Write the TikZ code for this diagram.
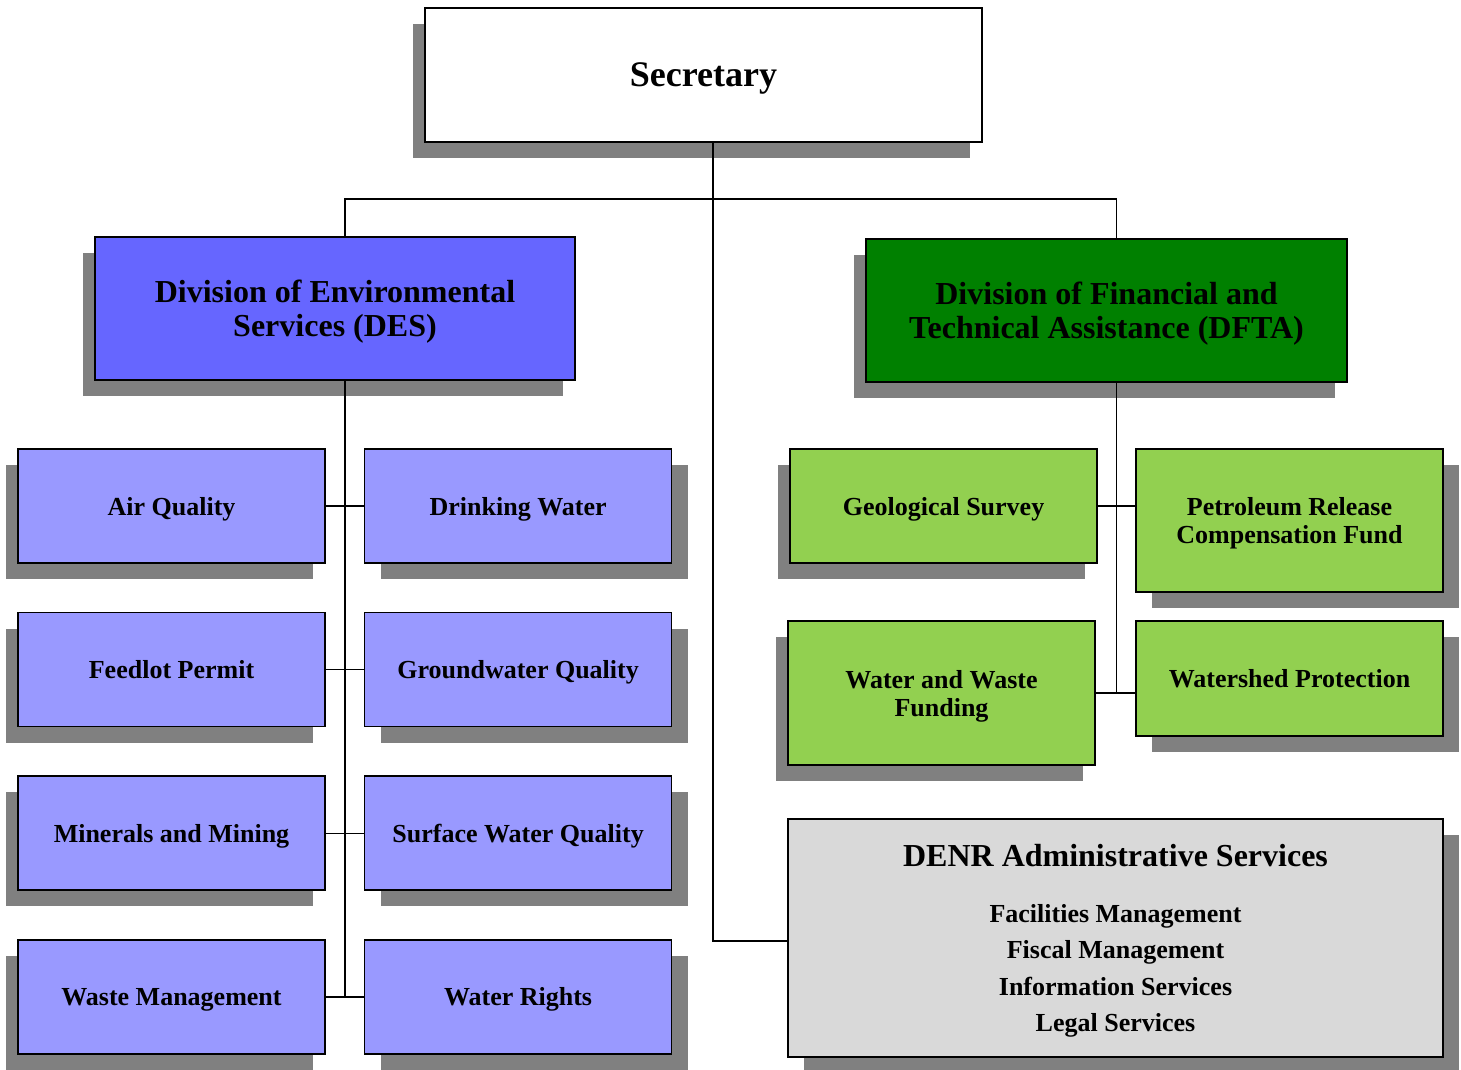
\documentclass[tikz,border=0pt]{standalone}
\usepackage{fontspec}
\setmainfont{Liberation Serif}
\usepackage{tikz}
\usetikzlibrary{positioning,shadows}
\definecolor{desblue}{HTML}{6666FF}
\definecolor{deslight}{HTML}{9999FF}
\definecolor{dftagreen}{HTML}{008000}
\definecolor{dftalight}{HTML}{92D050}
\definecolor{admingray}{HTML}{D9D9D9}
\definecolor{shadowgray}{HTML}{808080}
\begin{document}
\begin{tikzpicture}[x=1pt,y=-1pt]
		\tikzstyle{box}=[rectangle, draw=black, line width=1.6pt, align=center, inner sep=0pt, text depth=0pt, font=\bfseries\fontsize{26}{28}\selectfont]
		\tikzstyle{unit}=[box, minimum width=307pt, minimum height=114pt]
		\tikzstyle{shadowl}=[drop shadow={shadow xshift=-12pt, shadow yshift=-16pt, fill=shadowgray, draw=none, opacity=1}]
		\tikzstyle{shadowr}=[drop shadow={shadow xshift=16pt, shadow yshift=-16pt, fill=shadowgray, draw=none, opacity=1}]
		\tikzstyle{link}=[line width=1.4pt, draw=black]
		\useasboundingbox (0,0) rectangle (1461,1070);
		\node[box, fill=white, shadowl, minimum width=557pt, minimum height=134pt, font=\bfseries\fontsize{36}{40}\selectfont] (sec) at (703.5,75) {Secretary};
		\node[box, fill=desblue, shadowl, minimum width=480pt, minimum height=143pt, font=\bfseries\fontsize{32}{34}\selectfont] (des) at (335,308.5) {Division of Environmental\\Services (DES)};
		\node[box, fill=dftagreen, shadowl, minimum width=481pt, minimum height=143pt, font=\bfseries\fontsize{32}{34}\selectfont] (dfta) at (1106.5,310.5) {Division of Financial and\\Technical Assistance (DFTA)};
		\node[unit, fill=deslight, shadowl] (air) at (171.5,506) {Air Quality};
		\node[unit, fill=deslight, shadowr, right=38pt of air] (drink) {Drinking Water};
		\node[unit, fill=deslight, shadowl, below=48pt of air] (feed) {Feedlot Permit};
		\node[unit, fill=deslight, shadowr, right=38pt of feed] (ground) {Groundwater Quality};
		\node[unit, fill=deslight, shadowl, below=48pt of feed] (mine) {Minerals and Mining};
		\node[unit, fill=deslight, shadowr, right=38pt of mine] (surface) {Surface Water Quality};
		\node[unit, fill=deslight, shadowl, below=48pt of mine] (waste) {Waste Management};
		\node[unit, fill=deslight, shadowr, right=38pt of waste] (rights) {Water Rights};
		\node[unit, fill=dftalight, shadowl] (geo) at (943.5,506) {Geological Survey};
		\node[unit, fill=dftalight, shadowr, minimum height=143pt] (petro) at (1289.5,520.5) {Petroleum Release\\Compensation Fund};
		\node[unit, fill=dftalight, shadowl, minimum height=144pt] (wwf) at (941.5,693) {Water and Waste\\Funding};
		\node[unit, fill=dftalight, shadowr, minimum height=115pt] (shed) at (1289.5,678.5) {Watershed Protection};
		\node[box, fill=admingray, shadowr, minimum width=655pt, minimum height=238pt, font=\bfseries\fontsize{26}{36.5}\selectfont] (denr) at (1115.5,938) {{\fontsize{32}{36}\selectfont DENR Administrative Services}\\[19pt]Facilities Management\\Fiscal Management\\Information Services\\Legal Services};
		\coordinate (bar) at (713,199);
		\draw[link] ([xshift=10pt]des.north) |- (bar) -| ([xshift=10pt]dfta.north);
		\draw[link] (sec.south -| bar) |- ([yshift=-3pt]denr.west);
		\draw[link] ([xshift=10pt]des.south) -- ([xshift=10pt]des.south |- waste.east);
		\foreach \l/\r in {air/drink, feed/ground, mine/surface, waste/rights}
			\draw[link] (\l.east) -- (\r.west);
		\draw[link] ([xshift=10pt]dfta.south) -- ([xshift=10pt]dfta.south |- wwf.east);
		\draw[link] (geo.east) -- (geo.east -| petro.west);
		\draw[link] (wwf.east) -- (wwf.east -| shed.west);
	\end{tikzpicture}
\end{document}
